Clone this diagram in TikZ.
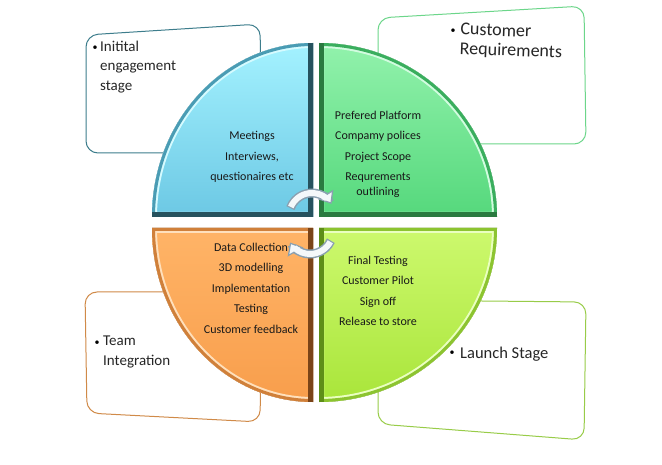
\documentclass[tikz,border=0pt]{standalone}
\usepackage{fontspec}
\setmainfont{Carlito}
\usetikzlibrary{arrows.meta}
\definecolor{tlTop}{HTML}{A4F2FF}\definecolor{tlBot}{HTML}{6CC8E4}\definecolor{tlEdge}{HTML}{4A9CB4}\definecolor{tlDark}{HTML}{26525E}\definecolor{tlLight}{HTML}{D6FBFF}
\definecolor{trTop}{HTML}{92F2AC}\definecolor{trBot}{HTML}{55D87C}\definecolor{trEdge}{HTML}{3AAE5E}\definecolor{trDark}{HTML}{2A7A40}\definecolor{trLight}{HTML}{D2FCE0}
\definecolor{blTop}{HTML}{FFB467}\definecolor{blBot}{HTML}{F89E4C}\definecolor{blEdge}{HTML}{D0803A}\definecolor{blDark}{HTML}{7A4418}\definecolor{blLight}{HTML}{FFE0BC}
\definecolor{brTop}{HTML}{CDF96E}\definecolor{brBot}{HTML}{A9E53A}\definecolor{brEdge}{HTML}{8CC430}\definecolor{brDark}{HTML}{5E8E18}\definecolor{brLight}{HTML}{EAFFC0}
\definecolor{tlBox}{HTML}{3D7D8C}\definecolor{trBox}{HTML}{6CD68A}\definecolor{blBox}{HTML}{D08A48}\definecolor{brBox}{HTML}{98CC48}
\definecolor{arrowEdge}{HTML}{8AA0B0}
\definecolor{arrowFill}{HTML}{F4F8FA}
\tikzset{
  infobox/.style={fill=white, line width=1pt, rounded corners=12pt},
  boxtext/.style={anchor=west, align=left, inner sep=0pt, text=black!85},
  bul/.style={inner sep=0pt, text=black},
  quadtext/.style={align=center, inner sep=0pt, text=black!90, font=\fontsize{12}{20.5}\selectfont},
  cyclearrow/.style={line width=9pt, draw=arrowEdge, -{Triangle[width=18pt,length=11pt,line width=1.2pt,fill=arrowFill]}},
  cycleinner/.style={line width=6pt, draw=arrowFill, line cap=butt}
}
% #1 path, #2 top, #3 bottom, #4 edge, #5 light, #6 dark colour, #7 straight edges path
\newcommand{\quadrant}[7]{%
  \fill[top color=#2, bottom color=#3] #1;
  \begin{scope}
    \clip #1;
    \draw[line width=10pt, #5] #1;
    \draw[line width=6pt, #4] #1;
    \draw[line width=10pt, #6] #7;
  \end{scope}
}
\begin{document}
\begin{tikzpicture}[x=1pt,y=-1pt]
\useasboundingbox (0,0) rectangle (662,465);
\fill[white] (0,0) rectangle (662,465);

% side boxes
\draw[infobox, draw=tlBox] (86,35) -- (260,24) -- (262,153) -- (86,153) -- cycle;
\draw[infobox, draw=trBox] (378,18) -- (584,6) -- (586,144) -- (378,144) -- cycle;
\draw[infobox, draw=blBox] (85,292) -- (262,292) -- (260,422) -- (87,413) -- cycle;
\draw[infobox, draw=brBox] (378,300) -- (586,302) -- (584,440) -- (378,424) -- cycle;

% quadrants
\quadrant{(313,217) -- (152,217) arc[start angle=180,end angle=270,x radius=161,y radius=174] -- cycle}{tlTop}{tlBot}{tlEdge}{tlLight}{tlDark}{(313,43) -- (313,217) -- (152,217)}
\quadrant{(319,217) -- (319,43) arc[start angle=270,end angle=360,x radius=178,y radius=174] -- cycle}{trTop}{trBot}{trEdge}{trLight}{trDark}{(319,43) -- (319,217) -- (497,217)}
\quadrant{(313,228) -- (313,402) arc[start angle=90,end angle=180,x radius=161,y radius=174] -- cycle}{blTop}{blBot}{blEdge}{blLight}{blDark}{(313,228) -- (313,402)}
\quadrant{(319,228) -- (497,228) arc[start angle=0,end angle=90,x radius=178,y radius=174] -- cycle}{brTop}{brBot}{brEdge}{brLight}{brDark}{(319,228) -- (319,402)}

% box texts
\node[bul] (b1) at (95,48) {\textbullet};
\node[boxtext, font=\fontsize{15}{19.5}\selectfont] (t1) at (100,67) {Initital\\engagement\\stage};
\node[bul] (b2) at (453,31) {\textbullet};
\node[boxtext, font=\fontsize{18}{19.5}\selectfont, rotate=-2] (t2) at (460,40) {Customer\\Requirements};
\node[bul] (b3) at (97,343) {\textbullet};
\node[boxtext, font=\fontsize{15}{19.5}\selectfont] (t3) at (103,352) {Team\\Integration};
\node[bul] (b4) at (452,353) {\textbullet};
\node[boxtext, font=\fontsize{16.5}{19.5}\selectfont] (t4) at (460,354) {Launch Stage};

% quadrant texts
\node[quadtext] (q1) at (252,157) {Meetings\\Interviews,\\questionaires etc};
\node[quadtext] (q2) at (378,154) {Prefered Platform\\Compamy polices\\Project Scope\\Requrements\\[-6pt]outlining};
\node[quadtext] (q3) at (251,288) {Data Collection\\3D modelling\\Implementation\\Testing\\Customer feedback};
\node[quadtext] (q4) at (378,291) {Final Testing\\Customer Pilot\\Sign off\\Release to store};

% cycle arrows
\draw[cyclearrow] (312,216) ++(200:23) arc[start angle=200,end angle=328,radius=23];
\draw[cycleinner] (312,216) ++(203:23) arc[start angle=203,end angle=310,radius=23];
\draw[cyclearrow] (310,231) ++(25:23) arc[start angle=25,end angle=150,radius=23];
\draw[cycleinner] (310,231) ++(28:23) arc[start angle=28,end angle=133,radius=23];
\end{tikzpicture}
\end{document}
